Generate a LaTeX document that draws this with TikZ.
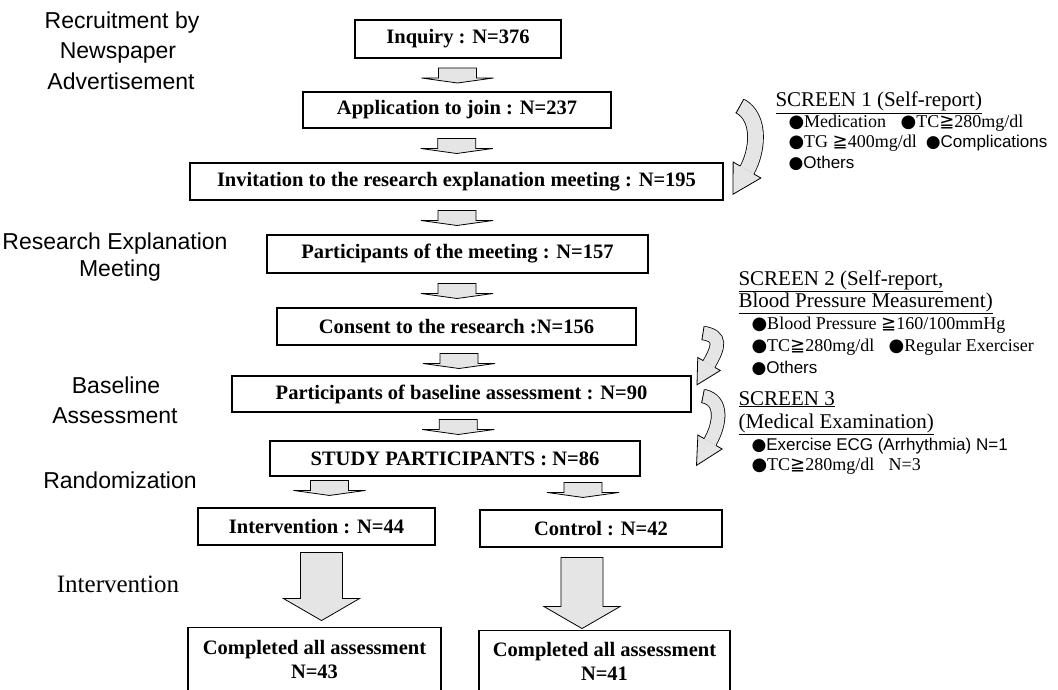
\documentclass[tikz,border=0pt]{standalone}
\usepackage{fontspec}
\setmainfont{Liberation Serif}
\setsansfont{Liberation Sans}
\newfontfamily\symfont{DejaVu Sans}
\usetikzlibrary{calc}
\newcommand{\bl}{{\symfont ●}}
\newcommand{\gqq}{{\symfont ≧}}
\newcommand{\flatarr}[1]{\path[flatarr] (#1) ++(-19,-7) -- ++(38,0) -- ++(0,10) -- ++(17,0) -- ++(-36,5) -- ++(-36,-5) -- ++(17,0) -- cycle;}
\newcommand{\bigarr}[2]{\path[flatarr] (#1) ++(-21,0) -- ++(42,0) -- ++(0,#2) -- ++(17,0) -- ++(-38,22) -- ++(-38,-22) -- ++(17,0) -- cycle;}
% #1 start, #2 control, #3 end of band, #4 half band, #5 half head, #6 head length
\newcommand{\curvearr}[6]{%
  \coordinate (tmpB) at ($(#3)-20*(-0.5,0.866)$);
  \draw[line width=0.8pt, double=gray!20, double distance=2*#4pt-0.8pt] (#1) .. controls (#2) and (tmpB) .. (#3);
  \fill[gray!20] ($(#3)+#5*(0.866,0.5)$) -- ($(#3)+#6*(-0.5,0.866)$) -- ($(#3)-#5*(0.866,0.5)$) -- cycle;
  \draw[line width=0.8pt] ($(#3)+#4*(0.866,0.5)$) -- ($(#3)+#5*(0.866,0.5)$) -- ($(#3)+#6*(-0.5,0.866)$) -- ($(#3)-#5*(0.866,0.5)$) -- ($(#3)-#4*(0.866,0.5)$);
  \draw[line width=0.8pt] ($(#1)!#4pt!90:(#2)$) -- ($(#1)!#4pt!-90:(#2)$);
}
\begin{document}
\begin{tikzpicture}[x=1pt,y=-1pt,
  box/.style={draw, line width=1.1pt, inner sep=0pt, font=\fontsize{20.5}{24}\selectfont\bfseries},
  flatarr/.style={draw, line width=0.8pt, fill=gray!20, line join=miter},
  lab/.style={anchor=base, font=\sffamily\fontsize{23}{28}\selectfont},
  scr/.style={anchor=base west, font=\fontsize{21}{24}\selectfont},
  itm/.style={anchor=base west, font=\fontsize{18}{20}\selectfont},
  isf/.style={anchor=base west, font=\sffamily\fontsize{17}{20}\selectfont}]
\fill[white] (0,0) rectangle (1058,690);
\useasboundingbox (0,0) rectangle (1058,690);

% main boxes
\node[box, minimum width=206pt, minimum height=38pt] (inq) at (458,39) {Inquiry : N=376};
\node[box, minimum width=308pt, minimum height=36pt] (app) at (457,110) {Application to join : N=237};
\node[box, minimum width=533pt, minimum height=37pt] (inv) at (456.5,181.5) {Invitation to the research explanation meeting : N=195};
\node[box, minimum width=381pt, minimum height=38pt] (part) at (457.5,254) {Participants of the meeting : N=157};
\node[box, minimum width=359pt, minimum height=37pt] (cons) at (456.5,326.5) {Consent to the research :N=156};
\node[box, minimum width=459pt, minimum height=36pt] (base) at (461.5,394) {Participants of baseline assessment : N=90};
\node[box, minimum width=370pt, minimum height=35pt] (study) at (455,458.5) {STUDY PARTICIPANTS : N=86};
\node[box, minimum width=237pt, minimum height=37pt] (interv) at (316.5,526.5) {Intervention : N=44};
\node[box, minimum width=242pt, minimum height=37pt] (ctrl) at (601,528.5) {Control : N=42};
\node[box, anchor=north, minimum width=253pt, minimum height=64pt, align=center] (compL) at (314.5,627) {Completed all assessment\\N=43};
\node[box, anchor=north, minimum width=251pt, minimum height=61pt, align=center] (compR) at (604.5,630) {Completed all assessment\\N=41};

% small flat arrows
\coordinate (a1) at ($(inq.south)!0.5!(app.north)$);
\coordinate (a2) at ($(app.south)!0.5!(inv.north)$);
\coordinate (a3) at ($(inv.south)!0.5!(part.north)$);
\coordinate (a4) at ($(part.south)!0.5!(cons.north)$);
\coordinate (a5) at ($(cons.south)!0.5!(base.north)$);
\coordinate (a6) at ($(base.south)!0.5!(study.north)$);
\coordinate (a7) at ($(interv.north)+(13,-20)$);
\coordinate (a8) at ($(ctrl.north)+(-18,-20)$);
\flatarr{a1}\flatarr{a2}\flatarr{a3}\flatarr{a4}\flatarr{a5}\flatarr{a6}\flatarr{a7}\flatarr{a8}

% big arrows
\coordinate (b1) at ($(interv.south)+(5,7)$);
\coordinate (b2) at ($(ctrl.south)+(-19,10)$);
\bigarr{b1}{46}
\bigarr{b2}{49}

% left labels
\node[lab] (l1a) at (122,28.5) {Recruitment by};
\node[lab] (l1b) at (118,59) {Newspaper};
\node[lab] (l1c) at (121,89.5) {Advertisement};
\node[lab] (l2a) at (115,249) {Research Explanation};
\node[lab] (l2b) at (120,276) {Meeting};
\node[lab] (l3a) at (116,393) {Baseline};
\node[lab] (l3b) at (115,423) {Assessment};
\node[lab] (l4) at (120,488) {Randomization};
\node[anchor=base, font=\fontsize{25}{28}\selectfont] (l5) at (118,592) {Intervention};

% curved screening arrows
\coordinate (c1s) at (740,106); \coordinate (c1a) at (762,118); \coordinate (c1e) at (747,170);
\curvearr{c1s}{c1a}{c1e}{7.9}{16}{28}
\coordinate (c2s) at (703,333); \coordinate (c2a) at (722,336); \coordinate (c2e) at (709,364);
\curvearr{c2s}{c2a}{c2e}{6.8}{13}{24}
\coordinate (c3s) at (703,396); \coordinate (c3a) at (724,400); \coordinate (c3e) at (710,442);
\curvearr{c3s}{c3a}{c3e}{6.8}{14}{27}

% screen texts
\node[scr] (s1) at (772,107) {\underline{SCREEN 1 (Self-report)}};
\node[itm] (s1a) at (785,128) {\bl Medication\hspace{0.8em}\bl TC\gqq280mg/dl};
\node[itm] (s1b) at (785,148) {\bl TG \gqq400mg/dl\hspace{0.5em}{\sffamily\fontsize{17}{20}\selectfont\bl Complications}};
\node[isf] (s1c) at (785,169) {\bl Others};
\node[scr] (s2a) at (735,285) {\underline{SCREEN 2 (Self-report,}};
\node[scr] (s2b) at (735,307) {\underline{Blood Pressure Measurement)}};
\node[itm] (s2c) at (748,329) {\bl Blood Pressure \gqq160/100mmHg};
\node[itm] (s2d) at (748,351) {\bl TC\gqq280mg/dl\hspace{0.8em}\bl Regular Exerciser};
\node[isf] (s2e) at (748,373) {\bl Others};
\node[scr] (s3a) at (735,405) {\underline{SCREEN 3}};
\node[scr] (s3b) at (735,428) {\underline{(Medical Examination)}};
\node[isf] (s3c) at (748,450) {\bl Exercise ECG (Arrhythmia) N=1};
\node[itm] (s3d) at (748,470) {\bl TC\gqq280mg/dl\hspace{0.8em}N=3};
\end{tikzpicture}
\end{document}
